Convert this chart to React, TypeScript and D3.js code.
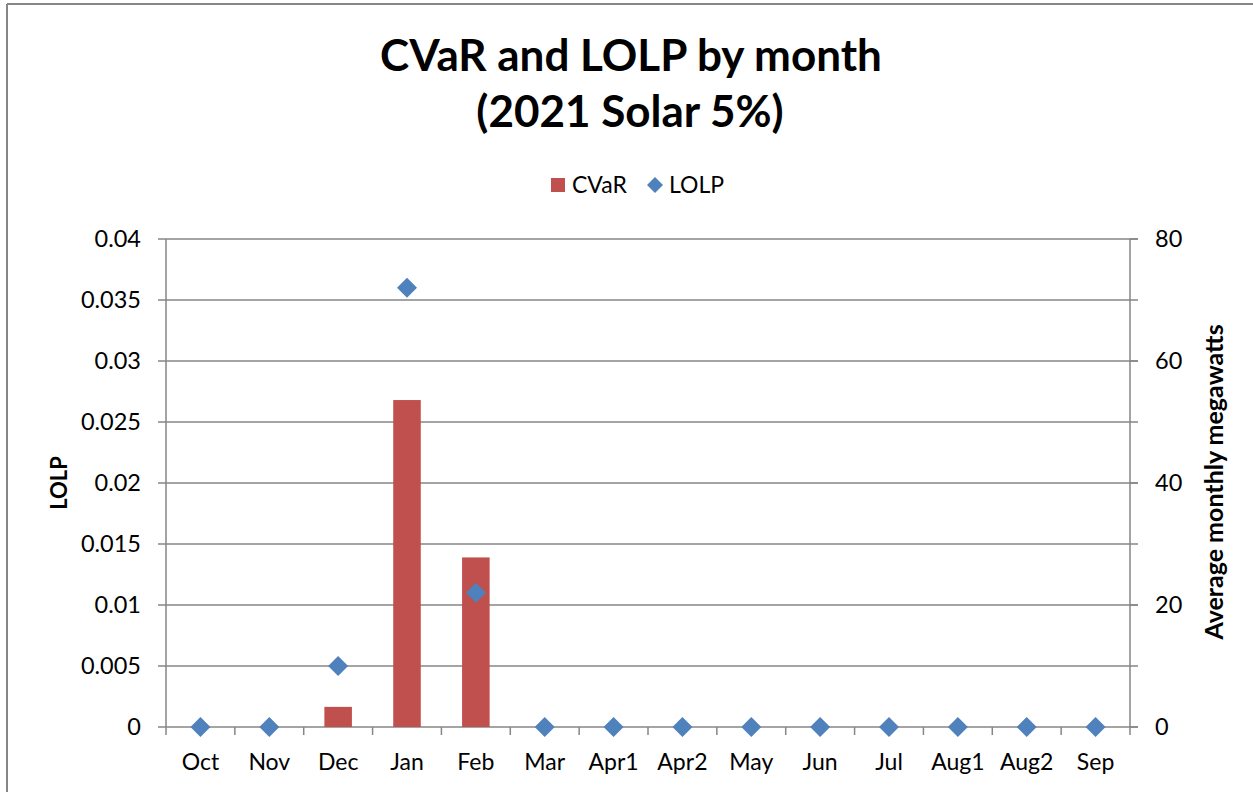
import React from "react";
import * as d3 from "d3";

const months = ["Oct", "Nov", "Dec", "Jan", "Feb", "Mar", "Apr1", "Apr2", "May", "Jun", "Jul", "Aug1", "Aug2", "Sep"];
const cvar = [0, 0, 3.3, 53.6, 27.8, 0, 0, 0, 0, 0, 0, 0, 0, 0];
const lolp = [0, 0, 0.005, 0.036, 0.011, 0, 0, 0, 0, 0, 0, 0, 0, 0];
const leftTicks = [0, 0.005, 0.01, 0.015, 0.02, 0.025, 0.03, 0.035, 0.04];
const rightTicks = [0, 20, 40, 60, 80];

const W = 1253;
const H = 792;
const FONT = "Lato, 'Open Sans', sans-serif";
const GRID = "#868686";
const RED = "#C0504D";
const BLUE = "#4F81BD";

export default function App() {
  const L = 166, R = 1130, T = 239, B = 727;
  const x = d3.scaleBand<string>().domain(months).range([L, R]).paddingInner(0).paddingOuter(0);
  const yL = d3.scaleLinear().domain([0, 0.04]).range([B, T]);
  const yR = d3.scaleLinear().domain([0, 80]).range([B, T]);
  const bw = x.bandwidth() / 2.5;
  const dm = 10;
  const boundaries = months.map((m) => x(m) as number).concat([R]);

  return (
    <svg width={W} height={H} style={{ position: "absolute", left: 0, top: 0, background: "#fff" }} fontFamily={FONT}>
      <rect x={0} y={0} width={W} height={H} fill="#fff" />
      <line x1={7} y1={4} x2={W} y2={4} stroke={GRID} strokeWidth={2} />
      <line x1={7} y1={4} x2={7} y2={H} stroke={GRID} strokeWidth={2} />

      <text x={631} y={71} textAnchor="middle" fontSize={44} fontWeight="bold" fill="#000">CVaR and LOLP by month</text>
      <text x={630} y={127} textAnchor="middle" fontSize={44} fontWeight="bold" fill="#000">(2021 Solar 5%)</text>

      {/* legend */}
      <rect x={551} y={178} width={14} height={14} fill={RED} />
      <text x={572} y={193} fontSize={23} fill="#000">CVaR</text>
      <path d={`M655,177 L663,185 L655,193 L647,185 Z`} fill={BLUE} />
      <text x={669} y={193} fontSize={23} fill="#000">LOLP</text>

      {/* gridlines */}
      {leftTicks.map((t) => (
        <line key={"g" + t} x1={L - 8} x2={R + 8} y1={yL(t)} y2={yL(t)} stroke={GRID} strokeWidth={1.5} />
      ))}
      {/* axes */}
      <line x1={L} x2={L} y1={T} y2={B} stroke={GRID} strokeWidth={1.5} />
      <line x1={R} x2={R} y1={T} y2={B} stroke={GRID} strokeWidth={1.5} />
      {rightTicks.map((t) => (
        <line key={"rt" + t} x1={R} x2={R + 8} y1={yR(t)} y2={yR(t)} stroke={GRID} strokeWidth={1.5} />
      ))}
      {boundaries.map((bx, i) => (
        <line key={"xt" + i} x1={bx} x2={bx} y1={B} y2={B + 8} stroke={GRID} strokeWidth={1.5} />
      ))}

      {/* tick labels */}
      {leftTicks.map((t) => (
        <text key={"lt" + t} x={141} y={yL(t) + 8} textAnchor="end" fontSize={23.5} fill="#000">{String(t)}</text>
      ))}
      {rightTicks.map((t) => (
        <text key={"rl" + t} x={1155} y={yR(t) + 8} textAnchor="start" fontSize={23.5} fill="#000">{String(t)}</text>
      ))}
      {months.map((m) => (
        <text key={"xl" + m} x={(x(m) as number) + x.bandwidth() / 2} y={770} textAnchor="middle" fontSize={23} fill="#000">{m}</text>
      ))}

      {/* axis titles */}
      <text transform={`translate(67,483) rotate(-90)`} textAnchor="middle" fontSize={22} fontWeight="bold" fill="#000">LOLP</text>
      <text transform={`translate(1223,482) rotate(-90)`} textAnchor="middle" fontSize={25} fontWeight="bold" fill="#000">Average monthly megawatts</text>

      {/* bars */}
      {months.map((m, i) =>
        cvar[i] > 0 ? (
          <rect key={"b" + m} x={(x(m) as number) + x.bandwidth() / 2 - bw / 2} y={yR(cvar[i])} width={bw} height={B - yR(cvar[i])} fill={RED} />
        ) : null
      )}
      {/* diamonds */}
      {months.map((m, i) => {
        const cx = (x(m) as number) + x.bandwidth() / 2;
        const cy = yL(lolp[i]);
        return <path key={"d" + m} d={`M${cx},${cy - dm} L${cx + dm},${cy} L${cx},${cy + dm} L${cx - dm},${cy} Z`} fill={BLUE} />;
      })}
    </svg>
  );
}
